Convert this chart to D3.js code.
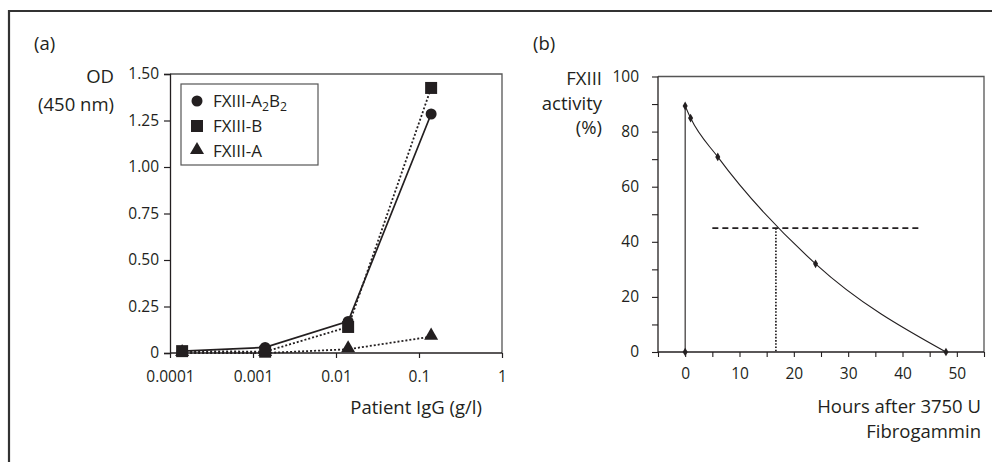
<!DOCTYPE html>
<html><head><meta charset="utf-8">
<script src="https://cdn.jsdelivr.net/npm/d3@7"></script>
<style>
html,body{margin:0;padding:0;background:#fff;}
svg{display:block;}
text{font-family:"Open Sans","Noto Sans",sans-serif;fill:#231f20;}
</style></head><body>
<svg id="c" width="992" height="462"></svg>
<script>
// ---- Panel (a) data ----
const concA = [0.00014, 0.0014, 0.014, 0.14];
const odA2B2 = [0.01, 0.03, 0.17, 1.285];
const odB = [0.01, 0.007, 0.14, 1.425];
const odA = [0.0, 0.0, 0.02, 0.088];
const seriesNamesA = ["FXIII-A2B2", "FXIII-B", "FXIII-A"];
const yTicksA = [0, 0.25, 0.5, 0.75, 1.0, 1.25, 1.5];
const yTickLabelsA = ["0", "0.25", "0.50", "0.75", "1.00", "1.25", "1.50"];
const xTicksA = [0.0001, 0.001, 0.01, 0.1, 1];
const xTickLabelsA = ["0.0001", "0.001", "0.01", "0.1", "1"];

// ---- Panel (b) data ----
const hoursB = [0, 1, 6, 24, 48];
const activityB = [89.3, 84.9, 70.8, 32, 0];
const baseB = [[0, 0], [0, 89.3]];
const halfLevel = 45;
const halfTime = 16.7;
const halfLineStart = 5;
const halfLineEnd = 43;
const xTicksB = [-5, 0, 5, 10, 15, 20, 25, 30, 35, 40, 45, 50, 55];
const xTickLabelsB = ["0", "10", "20", "30", "40", "50"];
const yTicksB = [0, 10, 20, 30, 40, 50, 60, 70, 80, 90, 100];
const yTickLabelsB = ["0", "20", "40", "60", "80", "100"];

const svg = d3.select("#c");
const ink = "#231f20";
const FT = 15.5;   // tick labels
const FL = 17;     // legend
const FA = 18.5;   // titles

// outer frame
svg.append("path").attr("d", "M9,470 L9,11 L1000,11")
  .attr("fill", "none").attr("stroke", "#333").attr("stroke-width", 2.2);

// ================= Panel (a) =================
const xa = d3.scaleLog().domain([0.0001, 1]).range([170, 502]);
const ya = d3.scaleLinear().domain([0, 1.5]).range([353, 74]);

svg.append("text").attr("x", 34).attr("y", 50).attr("font-size", FA).text("(a)");
svg.append("text").attr("x", 114).attr("y", 83).attr("text-anchor", "end").attr("font-size", FA).text("OD");
svg.append("text").attr("x", 114).attr("y", 111).attr("text-anchor", "end").attr("font-size", FA).text("(450 nm)");

// box
svg.append("path").attr("d", `M${xa.range()[0]},${ya(1.5)} H${xa.range()[1]} V${ya(0)}`)
  .attr("fill", "none").attr("stroke", "#555").attr("stroke-width", 1.3);

const gyA = svg.append("g").attr("transform", `translate(${xa.range()[0]},0)`)
  .call(d3.axisLeft(ya).tickValues(yTicksA).tickSize(6).tickPadding(5)
    .tickFormat((d, i) => yTickLabelsA[i]));
const gxA = svg.append("g").attr("transform", `translate(0,${ya(0)})`)
  .call(d3.axisBottom(xa).tickValues(xTicksA).tickSize(5).tickPadding(13)
    .tickFormat((d, i) => xTickLabelsA[i]));
[gyA, gxA].forEach(g => {
  g.select(".domain").attr("stroke", ink).attr("stroke-width", 1.3);
  g.selectAll(".tick line").attr("stroke", ink).attr("stroke-width", 1.2);
  g.selectAll(".tick text").attr("font-size", FT).attr("fill", ink);
});
gxA.select(".domain").attr("d", `M${xa.range()[0]},0 H${xa.range()[1]}`);

svg.append("text").attr("x", 482).attr("y", 414).attr("text-anchor", "end").attr("font-size", FA).text("Patient IgG (g/l)");

const lineA = d3.line().x(d => xa(d[0])).y(d => ya(d[1]));
const ptsA2B2 = concA.map((c, i) => [c, odA2B2[i]]);
const ptsB = concA.map((c, i) => [c, odB[i]]);
const ptsA = concA.map((c, i) => [c, odA[i]]);

svg.append("path").attr("d", lineA(ptsA)).attr("fill", "none").attr("stroke", ink)
  .attr("stroke-width", 1.8).attr("stroke-dasharray", "2,2");
svg.append("path").attr("d", lineA(ptsB)).attr("fill", "none").attr("stroke", ink)
  .attr("stroke-width", 1.8).attr("stroke-dasharray", "2,2");
svg.append("path").attr("d", lineA(ptsA2B2)).attr("fill", "none").attr("stroke", ink)
  .attr("stroke-width", 1.7);

const symCircle = d3.symbol().type(d3.symbolCircle).size(95);
const symSquare = d3.symbol().type(d3.symbolSquare).size(144);
const symTri = d3.symbol().type(d3.symbolTriangle).size(85);

svg.append("g").selectAll("path").data(ptsA).join("path")
  .attr("d", symTri).attr("fill", ink)
  .attr("transform", d => `translate(${xa(d[0])},${ya(d[1]) - 1})`);
svg.append("g").selectAll("path").data(ptsA2B2).join("path")
  .attr("d", symCircle).attr("fill", ink)
  .attr("transform", d => `translate(${xa(d[0])},${ya(d[1])})`);
svg.append("g").selectAll("path").data(ptsB).join("path")
  .attr("d", symSquare).attr("fill", ink)
  .attr("transform", d => `translate(${xa(d[0])},${ya(d[1])})`);

// legend
const lg = svg.append("g");
lg.append("rect").attr("x", 181).attr("y", 84).attr("width", 137).attr("height", 81)
  .attr("fill", "#fff").attr("stroke", "#555").attr("stroke-width", 1.2);
const legSyms = [symCircle, symSquare, symTri];
const legY = [101, 126, 151];
legSyms.forEach((s, i) => {
  lg.append("path").attr("d", s).attr("fill", ink)
    .attr("transform", `translate(197,${legY[i] - (i === 2 ? 1 : 0)})`);
});
const t0 = lg.append("text").attr("x", 213).attr("y", legY[0] + 6).attr("font-size", FL);
t0.append("tspan").text("FXIII-A");
t0.append("tspan").attr("font-size", FL * 0.72).attr("dy", 4).text("2");
t0.append("tspan").attr("dy", -4).text("B");
t0.append("tspan").attr("font-size", FL * 0.72).attr("dy", 4).text("2");
lg.append("text").attr("x", 213).attr("y", legY[1] + 6).attr("font-size", FL).text(seriesNamesA[1]);
lg.append("text").attr("x", 213).attr("y", legY[2] + 6).attr("font-size", FL).text(seriesNamesA[2]);

// ================= Panel (b) =================
const xb = d3.scaleLinear().domain([-5, 55]).range([658, 984]);
const yb = d3.scaleLinear().domain([0, 100]).range([352, 76.5]);

svg.append("text").attr("x", 533).attr("y", 50).attr("font-size", FA).text("(b)");
svg.append("text").attr("x", 602).attr("y", 85).attr("text-anchor", "end").attr("font-size", FA).text("FXIII");
svg.append("text").attr("x", 602).attr("y", 110).attr("text-anchor", "end").attr("font-size", FA).text("activity");
svg.append("text").attr("x", 602).attr("y", 134).attr("text-anchor", "end").attr("font-size", FA).text("(%)");

svg.append("path").attr("d", `M${xb(-5)},${yb(100)} H${xb(55)} V${yb(0)}`)
  .attr("fill", "none").attr("stroke", "#555").attr("stroke-width", 1.3);

const gyB = svg.append("g").attr("transform", `translate(${xb(-5)},0)`)
  .call(d3.axisLeft(yb).tickValues(yTicksB).tickSize(6).tickPadding(13)
    .tickFormat(d => yTickLabelsB.includes(String(d)) ? String(d) : ""));
const gxB = svg.append("g").attr("transform", `translate(0,${yb(0)})`)
  .call(d3.axisBottom(xb).tickValues(xTicksB).tickSize(5).tickPadding(11)
    .tickFormat(d => xTickLabelsB.includes(String(d)) ? String(d) : ""));
[gyB, gxB].forEach(g => {
  g.select(".domain").attr("stroke", ink).attr("stroke-width", 1.3);
  g.selectAll(".tick line").attr("stroke", ink).attr("stroke-width", 1.1);
  g.selectAll(".tick text").attr("font-size", FT).attr("fill", ink);
});
gxB.select(".domain").attr("d", `M${xb(-5)},0 H${xb(55)}`);
gyB.select(".domain").attr("d", `M0,${yb(0)} V${yb(100)}`);

svg.append("text").attr("x", 981).attr("y", 413).attr("text-anchor", "end").attr("font-size", FA).text("Hours after 3750 U");
svg.append("text").attr("x", 981).attr("y", 438).attr("text-anchor", "end").attr("font-size", FA).text("Fibrogammin");

// half-life guides
svg.append("line").attr("x1", xb(halfLineStart)).attr("x2", xb(halfLineEnd))
  .attr("y1", yb(halfLevel)).attr("y2", yb(halfLevel))
  .attr("stroke", ink).attr("stroke-width", 1.7).attr("stroke-dasharray", "6,4");
svg.append("line").attr("x1", xb(halfTime)).attr("x2", xb(halfTime))
  .attr("y1", yb(halfLevel)).attr("y2", yb(0))
  .attr("stroke", ink).attr("stroke-width", 1.7).attr("stroke-dasharray", "1.6,1.6");

// baseline vertical at t=0
svg.append("path").attr("d", d3.line().x(d => xb(d[0])).y(d => yb(d[1]))(baseB))
  .attr("fill", "none").attr("stroke", ink).attr("stroke-width", 1.1);

const ptsBB = hoursB.map((h, i) => [h, activityB[i]]);
svg.append("path").attr("d", d3.line().x(d => xb(d[0])).y(d => yb(d[1])).curve(d3.curveMonotoneX)(ptsBB))
  .attr("fill", "none").attr("stroke", ink).attr("stroke-width", 1.1);

const symDia = d3.symbol().type(d3.symbolDiamond).size(22);
svg.append("g").selectAll("path").data(ptsBB.concat([baseB[0]])).join("path")
  .attr("d", symDia).attr("fill", ink)
  .attr("transform", d => `translate(${xb(d[0])},${yb(d[1])})`);
</script>
</body></html>
